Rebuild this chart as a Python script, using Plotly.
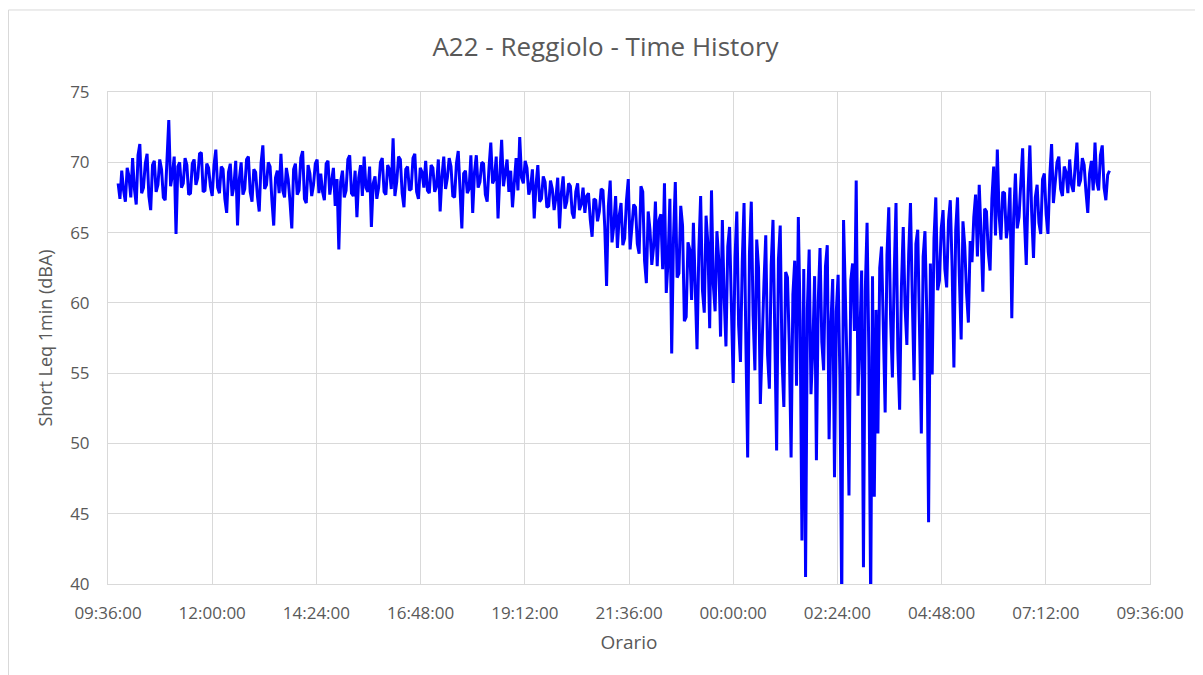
import pandas as pd
import plotly.graph_objs as go

# Short Leq 1min (dBA), every 2.5 minutes from 09:50
leq_0950_1200 = [68.5, 67.4, 69.4, 68.0, 67.2, 69.6, 69.0, 67.5, 70.3, 68.1, 67.0, 70.5, 71.3, 67.8,
                 68.2, 69.9, 70.6, 67.6, 66.6, 69.8, 70.1, 67.9, 68.4, 70.2, 69.5, 67.5, 67.3, 69.8,
                 73.0, 68.3, 69.1, 70.4, 64.9, 69.7, 70.0, 68.2, 68.5, 70.3, 69.8, 67.7, 67.8, 69.9,
                 70.2, 68.4, 68.9, 70.6, 70.7, 67.9, 68.0, 69.9, 69.6, 68.3, 67.6, 69.8]
leq_1200_1424 = [70.9, 68.2, 67.8, 69.7, 69.5, 67.4, 66.4, 69.3, 69.9, 67.6, 68.3, 70.1, 65.5, 68.8,
                 70.0, 67.7, 68.1, 70.2, 70.4, 67.9, 67.2, 69.5, 69.3, 67.6, 66.5, 69.9, 71.2, 68.1,
                 68.4, 70.0, 69.7, 67.3, 65.5, 68.9, 69.4, 67.8, 70.6, 68.0, 67.5, 69.6, 68.8, 67.2,
                 65.3, 69.5, 69.9, 67.7, 68.0, 70.3, 70.8, 67.4, 67.1, 69.8, 69.2, 67.6, 68.4, 69.9,
                 70.2, 67.8]
leq_1424_1648 = [69.2, 67.9, 67.3, 69.9, 70.1, 67.7, 68.5, 69.6, 66.9, 68.8, 63.8, 68.6, 69.4, 67.5,
                 68.0, 70.2, 70.5, 67.8, 67.6, 69.4, 66.1, 68.9, 69.8, 67.6, 70.4, 68.2, 67.9, 69.7,
                 65.4, 68.5, 69.0, 67.4, 68.2, 70.0, 70.3, 67.9, 67.7, 69.8, 69.5, 68.1, 71.7, 67.6,
                 68.6, 70.4, 70.2, 67.8, 66.8, 69.5, 69.7, 68.0, 68.1, 70.3, 70.6, 67.9, 67.4, 69.6,
                 69.3, 68.2]
leq_1648_1912 = [70.1, 68.0, 67.8, 69.8, 69.6, 67.9, 68.3, 70.2, 66.5, 69.0, 70.4, 68.1, 68.9, 70.3,
                 69.7, 67.6, 67.5, 69.9, 70.8, 68.4, 65.3, 69.2, 69.4, 67.8, 68.1, 70.5, 66.4, 69.3,
                 70.5, 68.2, 68.6, 70.0, 69.9, 67.7, 67.2, 69.6, 71.4, 68.5, 68.8, 70.4, 66.0, 69.1,
                 71.6, 68.3, 69.2, 70.2, 67.9, 69.4, 66.8, 68.7, 70.3, 68.0, 71.8, 68.9, 68.5, 70.1,
                 69.6, 67.7]
leq_1912_2136 = [68.2, 69.5, 66.0, 68.4, 69.8, 67.2, 67.4, 69.0, 68.6, 66.8, 66.9, 68.7, 68.1, 66.6,
                 67.5, 68.9, 65.3, 67.8, 69.0, 66.7, 67.2, 68.5, 68.3, 66.4, 66.0, 67.9, 68.5, 66.6,
                 67.0, 68.2, 66.4, 67.6, 67.8, 65.9, 64.7, 67.4, 67.3, 65.8, 66.5, 68.1, 68.0, 65.4,
                 61.2, 66.9, 68.7, 64.3, 65.5, 67.6, 63.9, 66.2, 67.1, 64.1, 64.6, 67.3, 68.8, 63.8,
                 65.2, 67.0]
leq_2136_0000 = [66.8, 64.2, 63.5, 68.3, 67.9, 63.0, 61.4, 66.5, 65.2, 62.7, 64.0, 67.2, 62.6, 65.9,
                 66.3, 62.4, 68.5, 60.7, 63.0, 67.4, 56.4, 64.6, 68.6, 61.8, 62.1, 66.9, 65.5, 58.7,
                 59.0, 64.3, 63.8, 60.2, 65.7, 61.5, 56.7, 63.7, 67.6, 60.9, 59.3, 66.2, 64.2, 58.2,
                 68.0, 61.3, 59.4, 65.1, 63.1, 57.6, 65.9, 60.4, 56.9, 64.0, 65.4, 59.8, 54.3, 63.2,
                 66.5, 58.4]
leq_0000_0224 = [55.8, 62.9, 67.1, 57.3, 49.0, 63.6, 67.2, 59.1, 55.2, 64.5, 62.5, 52.8, 58.0, 61.4,
                 64.8, 56.3, 53.9, 62.7, 65.9, 58.4, 49.5, 63.1, 65.5, 55.9, 52.6, 62.2, 61.8, 57.0,
                 49.0, 60.6, 63.0, 54.1, 66.1, 58.8, 43.1, 62.4, 40.5, 59.6, 63.8, 53.5, 56.7, 61.9,
                 48.8, 60.1, 63.9, 57.2, 55.2, 62.6, 64.1, 50.3, 58.5, 61.7, 47.6, 59.4, 62.0, 54.6,
                 38.5, 65.9]
leq_0224_0448 = [60.5, 55.1, 46.3, 61.6, 62.8, 58.0, 68.7, 53.4, 57.5, 62.3, 41.2, 60.8, 65.7, 56.2,
                 38.5, 61.9, 46.2, 59.5, 50.7, 62.5, 64.0, 57.8, 52.2, 63.4, 66.8, 58.9, 54.7, 62.1,
                 67.1, 56.6, 52.4, 61.2, 65.4, 59.7, 57.0, 63.5, 67.1, 60.3, 54.5, 64.2, 65.2, 58.1,
                 50.7, 63.3, 65.1, 59.2, 44.4, 62.8, 54.9, 64.6, 67.5, 60.9, 61.6, 65.3, 66.6, 62.4,
                 61.1, 65.8]
leq_0448_0712 = [67.3, 62.6, 55.4, 65.2, 67.5, 61.9, 57.4, 65.8, 64.0, 60.7, 58.6, 64.4, 62.9, 66.1,
                 67.7, 63.3, 68.4, 64.9, 60.8, 66.7, 66.5, 63.6, 62.3, 67.4, 69.7, 64.8, 70.9, 66.2,
                 64.5, 67.9, 67.8, 64.6, 65.6, 68.2, 58.9, 66.0, 69.2, 65.3, 66.1, 68.6, 71.0, 65.9,
                 62.7, 68.0, 71.2, 66.4, 63.2, 67.5, 68.4, 65.7, 64.9, 68.8, 69.2, 66.3, 64.9, 69.0,
                 71.3, 67.1]
leq_0712_0842 = [68.5, 70.0, 70.4, 68.1, 67.6, 69.7, 69.3, 67.8, 70.2, 68.4, 67.9, 70.1, 71.4, 68.3,
                 68.7, 70.3, 69.8, 67.9, 66.4, 69.2, 70.1, 68.0, 71.4, 68.6, 68.0, 70.5, 71.2, 68.2,
                 67.3, 69.1, 69.4]

leq = (leq_0950_1200 + leq_1200_1424 + leq_1424_1648 + leq_1648_1912 + leq_1912_2136
       + leq_2136_0000 + leq_0000_0224 + leq_0224_0448 + leq_0448_0712 + leq_0712_0842)
times = pd.date_range("2024-05-06 09:50:00", periods=len(leq), freq="150s")

grey = "#595959"
grid = "#D9D9D9"
font = "Open Sans"

fig = go.Figure()
fig.add_trace(go.Scatter(x=times, y=leq, mode="lines",
                         line=dict(color="#0000FF", width=3)))

# page body adds 8px, so the figure is a bit smaller than the window
fig.update_layout(
    width=1195, height=667,
    margin=dict(l=100, r=53, t=84, b=91),
    paper_bgcolor="white", plot_bgcolor="white",
    showlegend=False,
    font=dict(family=font, color=grey, size=17),
    title=dict(text="A22 - Reggiolo - Time History", x=0.5, xanchor="center",
               y=0.9415, yanchor="middle", font=dict(size=26, color=grey)),
    shapes=[dict(type="rect", xref="paper", yref="paper", x0=-0.0955, x1=1.07,
                 y0=-0.25, y1=1.1667, line=dict(color=grid, width=1), layer="below")],
)
fig.update_xaxes(
    type="date", range=["2024-05-06 09:36:00", "2024-05-07 09:36:00"],
    tick0="2024-05-06 09:36:00", dtick=144 * 60 * 1000, tickformat="%H:%M:%S",
    showgrid=True, gridcolor=grid, gridwidth=1,
    showline=True, linecolor=grid, mirror=True, ticks="",
    ticklabelstandoff=14,
    tickfont=dict(size=17, color=grey),
    title=dict(text="Orario", font=dict(size=19, color=grey), standoff=12),
)
fig.update_yaxes(
    range=[40, 75], dtick=5,
    showgrid=True, gridcolor=grid, gridwidth=1,
    showline=True, linecolor=grid, mirror=True, ticks="",
    ticklabelstandoff=14,
    tickfont=dict(size=17, color=grey),
    title=dict(text="Short Leq 1min (dBA)", font=dict(size=18, color=grey), standoff=12),
)

fig.write_html("out.html")
